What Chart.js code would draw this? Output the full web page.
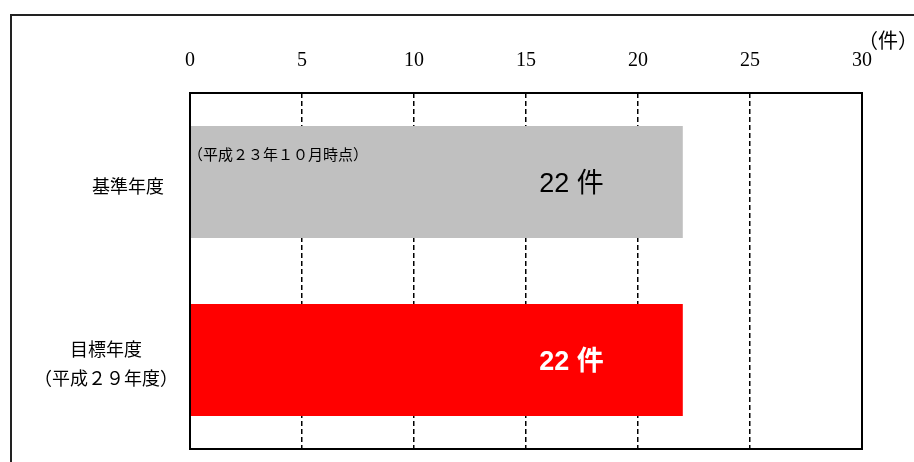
<!DOCTYPE html>
<html>
<head>
<meta charset="utf-8">
<script src="https://cdn.jsdelivr.net/npm/chart.js@4"></script>
<style>
  html, body { margin: 0; padding: 0; background: #fff; }
  #wrap { width: 914px; height: 462px; }
</style>
</head>
<body>
<div id="wrap"><canvas id="kenGraph" width="914" height="462"></canvas></div>
<script>
// data
const categories = [["基準年度"], ["目標年度", "（平成２９年度）"]];
const counts = [22, 22];
const barColors = ["#c0c0c0", "#ff0000"];
const valueLabels = ["22 件", "22 件"];
const tickValues = [0, 5, 10, 15, 20, 25, 30];
const unitLabel = "（件）";
const noteLabel = "（平成２３年１０月時点）";

const jpFont = "'Noto Sans CJK JP', sans-serif";

//frame, plot border, labels
const decorations = {
  id: "decorations",
  afterDraw(chart) {
    const ctx = chart.ctx;
    const area = chart.chartArea;
    const yScale = chart.scales.y;
    const xScale = chart.scales.x;
    ctx.save();

    // outer frame
    ctx.strokeStyle = "#222";
    ctx.lineWidth = 2;
    ctx.beginPath();
    ctx.moveTo(11, 470);
    ctx.lineTo(11, 15);
    ctx.lineTo(920, 15);
    ctx.stroke();

    // plot border
    ctx.strokeStyle = "#000";
    ctx.lineWidth = 2;
    ctx.strokeRect(area.left, area.top, area.right - area.left, area.bottom - area.top);

    // unit
    ctx.fillStyle = "#000";
    ctx.font = "20px " + jpFont;
    ctx.textAlign = "left";
    ctx.textBaseline = "middle";
    ctx.fillText(unitLabel, 858, 40);

    // category labels
    const labelCenters = [128, 106];
    ctx.font = "18px " + jpFont;
    ctx.textAlign = "center";
    categories.forEach((lines, i) => {
      const yc = yScale.getPixelForValue(i);
      const start = yc - (lines.length - 1) * 29 / 2 + 4;
      lines.forEach((line, j) => {
        ctx.fillText(line, labelCenters[i], start + j * 29);
      });
    });

    // note inside first bar
    const bar0 = chart.getDatasetMeta(0).data[0];
    ctx.font = "15px " + jpFont;
    ctx.textAlign = "left";
    ctx.fillText(noteLabel, xScale.getPixelForValue(0) - 2, bar0.y - 28);

    // value labels
    chart.getDatasetMeta(0).data.forEach((bar, i) => {
      ctx.textAlign = "right";
      ctx.textBaseline = "middle";
      if (i === 1) {
        ctx.fillStyle = "#fff";
        ctx.font = "bold 27px 'Liberation Sans', " + jpFont;
      } else {
        ctx.fillStyle = "#000";
        ctx.font = "27px 'Liberation Sans', " + jpFont;
      }
      ctx.fillText(valueLabels[i], bar.x - 79, bar.y + 3);
    });
    ctx.restore();
  },
};

let ctxGraph = document.getElementById("kenGraph").getContext("2d");
let kenChart = new Chart(ctxGraph, {
  type: "bar",
  data: {
    labels: categories,
    datasets: [
      {
        data: counts,
        backgroundColor: barColors,
        borderWidth: 0,
        barPercentage: 0.63,
        categoryPercentage: 1,
      },
    ],
  },
  options: {
    indexAxis: "y",
    responsive: false,
    animation: false,
    layout: { padding: { left: 190, right: 52, top: 0, bottom: 13 } },
    plugins: { legend: { display: false }, tooltip: { enabled: false } },
    scales: {
      x: {
        position: "top",
        min: 0,
        max: 30,
        afterFit: (scale) => {
          scale.height = 93;
        },
        afterBuildTicks: (scale) => {
          scale.ticks = tickValues.map((v) => ({ value: v }));
        },
        ticks: {
          color: "#000",
          padding: 20,
          font: { family: "'Liberation Serif', serif", size: 20 },
        },
        border: { display: false, dash: [5, 3] },
        grid: {
          drawTicks: false,
          color: (c) => (c.tick && (c.tick.value === 0 || c.tick.value === 30) ? "rgba(0,0,0,0)" : "#000"),
          lineWidth: 1.5,
        },
      },
      y: {
        display: false,
      },
    },
  },
  plugins: [decorations],
});
</script>
</body>
</html>
